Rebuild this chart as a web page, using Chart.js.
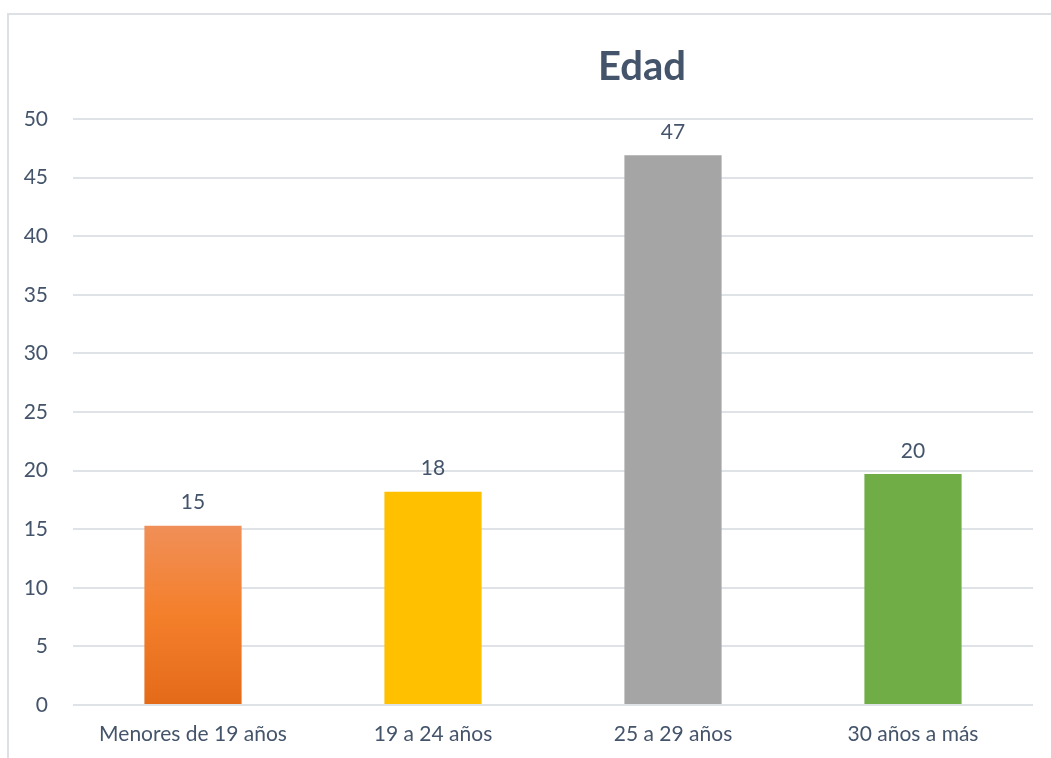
<!DOCTYPE html>
<html lang="es">
<head>
  <meta charset="UTF-8" />
  <title>Edad</title>
  <script src="https://cdn.jsdelivr.net/npm/chart.js"></script>
  <style>
    * { margin: 0; padding: 0; box-sizing: border-box; }
    html, body { width: 1051px; height: 758px; background: #fff; overflow: hidden; }
    /* thin frame around the chart (top and left edges only visible) */
    .frame {
      position: absolute;
      left: 7px;
      top: 13px;
      width: 1044px;
      height: 745px;
      border-top: 2px solid #dde1e6;
      border-left: 2px solid #dde1e6;
    }
    #chart { position: absolute; left: 0; top: 0; }
  </style>
</head>
<body>
  <div class="frame"></div>
  <canvas id="chart" width="1051" height="758"></canvas>
  <script>
    // data
    const categories = ['Menores de 19 años', '19 a 24 años', '25 a 29 años', '30 años a más'];
    const values = [15.3, 18.2, 46.9, 19.7];
    const yTicks = [0, 5, 10, 15, 20, 25, 30, 35, 40, 45, 50];

    const textColor = '#44546a';
    const fontFamily = 'Lato, "Open Sans", sans-serif';

    // orange bar gets a vertical gradient, the others are flat
    function barColor(context) {
      const flat = ['#f47f2b', '#ffc000', '#a5a5a5', '#70ad47'][context.dataIndex];
      const chart = context.chart;
      const area = chart.chartArea;
      const y = chart.scales.y;
      if (context.dataIndex !== 0 || !area || !y) return flat;
      const top = y.getPixelForValue(values[0]);
      if (!isFinite(top) || !isFinite(area.bottom)) return flat;
      const g = chart.ctx.createLinearGradient(0, top, 0, area.bottom);
      g.addColorStop(0, '#f08f58');
      g.addColorStop(0.5, '#f47f2b');
      g.addColorStop(1, '#e36a19');
      return g;
    }

    // title drawn by hand so it can sit where the original has it
    const titlePlugin = {
      id: 'titlePlugin',
      afterDraw(chart) {
        const ctx = chart.ctx;
        ctx.save();
        ctx.font = 'bold 40px ' + fontFamily;
        ctx.fillStyle = textColor;
        ctx.textAlign = 'center';
        ctx.textBaseline = 'middle';
        ctx.fillText('Edad', 642, 67);
        ctx.restore();
      }
    };

    // value labels above each bar
    const valueLabels = {
      id: 'valueLabels',
      afterDatasetsDraw(chart) {
        const ctx = chart.ctx;
        ctx.save();
        ctx.font = '21px ' + fontFamily;
        ctx.fillStyle = textColor;
        ctx.textAlign = 'center';
        ctx.textBaseline = 'middle';
        chart.getDatasetMeta(0).data.forEach((bar, i) => {
          ctx.fillText(Math.round(values[i]), bar.x, bar.y - 23);
        });
        ctx.restore();
      }
    };

    new Chart(document.getElementById('chart'), {
      type: 'bar',
      data: {
        labels: categories,
        datasets: [{
          data: values,
          backgroundColor: barColor,
          barPercentage: 0.405,
          categoryPercentage: 1
        }]
      },
      options: {
        responsive: false,
        animation: false,
        layout: { padding: { top: 119, right: 18, left: 0, bottom: 0 } },
        plugins: {
          legend: { display: false },
          tooltip: { enabled: false },
          title: { display: false }
        },
        scales: {
          x: {
            grid: { display: false, drawTicks: false },
            border: { display: false },
            afterFit(scale) { scale.height = 53; },
            ticks: {
              color: textColor,
              font: { size: 21, family: fontFamily },
              padding: 17
            }
          },
          y: {
            min: 0,
            max: 50,
            afterFit(scale) { scale.width = 73; },
            afterBuildTicks(scale) { scale.ticks = yTicks.map(v => ({ value: v })); },
            grid: { color: '#dfe3e8', lineWidth: 2, drawTicks: false },
            border: { display: false },
            ticks: {
              color: textColor,
              font: { size: 21, family: fontFamily },
              padding: 25
            }
          }
        }
      },
      plugins: [titlePlugin, valueLabels]
    });
  </script>
</body>
</html>
